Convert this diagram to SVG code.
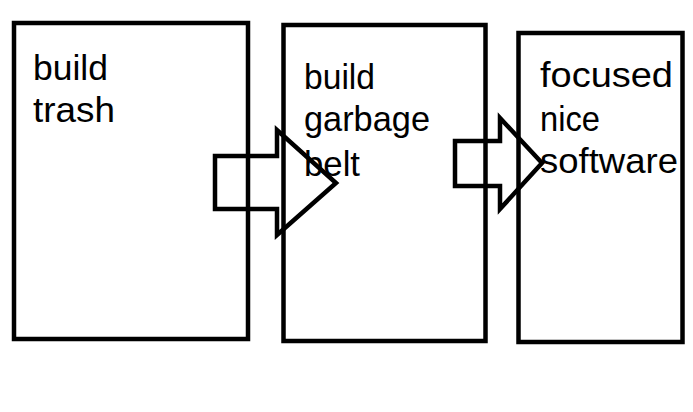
<svg xmlns="http://www.w3.org/2000/svg" width="693" height="412" viewBox="0 0 693 412">
<style>
.box{fill:none;stroke:#000;stroke-width:4.5}
.arrow{fill:none;stroke:#000;stroke-width:4.5;stroke-linejoin:miter}
.t{font-family:"Liberation Sans",Arial,sans-serif;font-size:35px;fill:#000}
</style>
<rect width="693" height="412" fill="#fff"/>
<g id="node1">
<rect class="box" x="14" y="23" width="234" height="316"/>
<text class="t" x="33" y="80" textLength="75" lengthAdjust="spacingAndGlyphs">build</text>
<text class="t" x="33" y="122" textLength="82" lengthAdjust="spacingAndGlyphs">trash</text>
</g>
<g id="node2">
<rect class="box" x="283.5" y="25" width="202" height="316"/>
<text class="t" x="304" y="89" textLength="71" lengthAdjust="spacingAndGlyphs">build</text>
<text class="t" x="304" y="131" textLength="126" lengthAdjust="spacingAndGlyphs">garbage</text>
<text class="t" x="304" y="176" textLength="56" lengthAdjust="spacingAndGlyphs">belt</text>
</g>
<g id="node3">
<rect class="box" x="518.5" y="33" width="164" height="309"/>
<text class="t" x="540" y="87" textLength="133" lengthAdjust="spacingAndGlyphs">focused</text>
<text class="t" x="540" y="131" textLength="60" lengthAdjust="spacingAndGlyphs">nice</text>
<text class="t" x="540" y="173" textLength="138" lengthAdjust="spacingAndGlyphs">software</text>
</g>
<g id="connectors">
<polygon class="arrow" points="215,156 277,156 277,130 336,183 277,235 277,209 215,209"/>
<polygon class="arrow" points="455,141 500,141 500,118 542,163 500,209 500,186 455,186"/>
</g>
</svg>
